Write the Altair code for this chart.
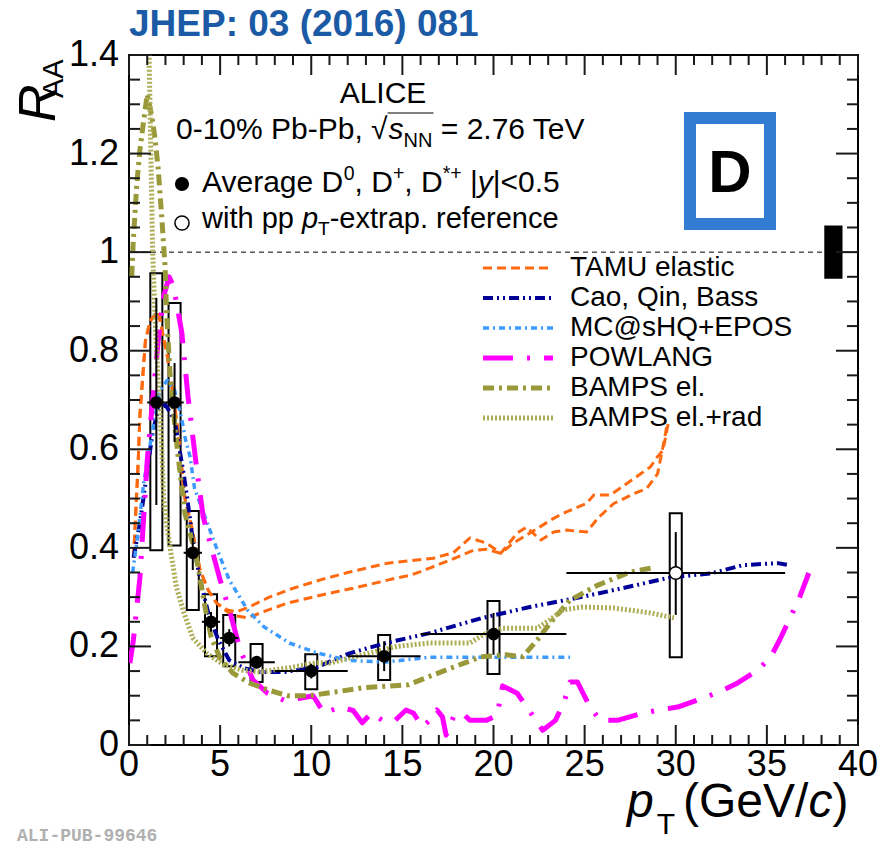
import altair as alt
import pandas as pd

# ---------------- data ----------------
# ALICE average D-meson R_AA, 0-10% Pb-Pb
pt = [1.5, 2.5, 3.5, 4.5, 5.5, 7.0, 10.0, 14.0, 20.0, 30.0]
pt_lo = [1, 2, 3, 4, 5, 6, 8, 12, 16, 24]
pt_hi = [2, 3, 4, 5, 6, 8, 12, 16, 24, 36]
raa = [0.695, 0.695, 0.39, 0.25, 0.217, 0.168, 0.15, 0.18, 0.225, 0.349]
stat_lo = [0.487, 0.615, 0.355, 0.23, 0.20, 0.155, 0.135, 0.15, 0.183, 0.264]
stat_hi = [0.907, 0.775, 0.42, 0.27, 0.235, 0.18, 0.165, 0.21, 0.268, 0.432]
sys_lo = [0.395, 0.405, 0.274, 0.18, 0.16, 0.128, 0.113, 0.132, 0.144, 0.178]
sys_hi = [0.957, 0.897, 0.475, 0.306, 0.264, 0.205, 0.184, 0.223, 0.292, 0.47]
extrap = [False] * 9 + [True]

# normalisation uncertainty box
norm_pt = [38.15, 39.15]
norm_r = [0.946, 1.054]

# model curves
tamu_a_pt = [0.25, 0.5, 0.6, 0.9, 1.15, 1.6, 2.1, 2.5, 2.7, 3.07, 3.45, 3.9, 4.35, 4.8, 5.4, 5.9, 6.6, 7.7,
             9.0, 10.5, 12.0, 14.2, 16.7, 17.8, 18.7, 19.6, 20.4, 21.3, 21.8, 22.6, 23.3, 24.0, 25.1, 25.8,
             26.6, 27.7, 28.4, 29.0, 29.3, 29.5]
tamu_a_r = [0.38, 0.57, 0.67, 0.82, 0.86, 0.88, 0.79, 0.69, 0.63, 0.50, 0.44, 0.355, 0.314, 0.288, 0.274, 0.27,
            0.28, 0.30, 0.318, 0.335, 0.35, 0.369, 0.379, 0.39, 0.42, 0.41, 0.389, 0.43, 0.442, 0.416, 0.432,
            0.436, 0.432, 0.463, 0.49, 0.51, 0.52, 0.55, 0.605, 0.645]
tamu_b_pt = [0.25, 0.5, 0.6, 0.9, 1.15, 1.6, 2.1, 2.5, 2.7, 3.07, 3.45, 3.9, 4.35, 4.8, 5.4, 5.9, 6.5, 7.5,
             8.7, 11.0, 12.3, 14.7, 15.5, 16.5, 17.6, 18.9, 19.6, 20.4, 21.1, 22.0, 23.3, 24.0, 25.1, 25.5,
             26.4, 27.3, 28.6, 29.0, 29.3, 29.6]
tamu_b_r = [0.38, 0.57, 0.67, 0.82, 0.86, 0.88, 0.79, 0.69, 0.63, 0.50, 0.44, 0.355, 0.314, 0.288, 0.27, 0.262,
            0.258, 0.272, 0.288, 0.308, 0.318, 0.339, 0.345, 0.359, 0.375, 0.395, 0.397, 0.389, 0.41, 0.43,
            0.46, 0.473, 0.49, 0.507, 0.507, 0.53, 0.564, 0.585, 0.598, 0.655]
cao_pt = [0.25, 0.6, 0.9, 1.3, 1.6, 2.0, 2.5, 3.0, 3.2, 3.5, 3.9, 4.35, 4.9, 5.5, 6.3, 7.2, 8.5, 10.3, 12.1,
          14.1, 16.5, 19.3, 22.0, 24.8, 27.3, 29.7, 31.9, 33.7, 35.6, 36.2]
cao_r = [0.38, 0.45, 0.53, 0.635, 0.68, 0.69, 0.66, 0.55, 0.50, 0.416, 0.335, 0.268, 0.213, 0.172, 0.156,
         0.148, 0.148, 0.158, 0.186, 0.207, 0.227, 0.257, 0.28, 0.30, 0.32, 0.34, 0.348, 0.365, 0.369, 0.365]
mc_pt = [0.2, 0.5, 0.8, 1.25, 1.7, 2.1, 2.5, 2.9, 3.1, 3.35, 3.6, 3.8, 4.3, 4.8, 5.5, 6.5, 7.4, 8.8, 10.3,
         12.0, 14.0, 16.5, 20.0, 24.2]
mc_r = [0.35, 0.43, 0.53, 0.63, 0.72, 0.74, 0.72, 0.66, 0.62, 0.585, 0.52, 0.50, 0.45, 0.40, 0.335, 0.274,
        0.24, 0.207, 0.187, 0.172, 0.168, 0.178, 0.178, 0.178]
pow_pt = [0.05, 0.24, 0.6, 1.0, 1.3, 1.6, 1.9, 2.2, 2.45, 2.9, 3.24, 3.7, 4.07, 4.45, 5.0, 5.55, 6.1, 6.8, 7.6,
          8.5, 9.4, 10.1, 10.7, 11.6, 12.3, 12.8, 13.3, 13.9, 14.6, 15.2, 15.6, 16.1, 16.5, 16.9, 17.2, 17.4,
          17.8, 18.3, 18.7, 19.6, 20.2, 20.5, 21.3, 22.2, 22.7, 23.4, 23.9, 24.2, 24.6, 25.3, 25.85, 26.8,
          28.2, 29.1, 30.1, 31.5, 32.4, 33.4, 34.5, 35.2, 35.7, 36.3, 36.8, 37.3]
pow_r = [0.166, 0.213, 0.34, 0.578, 0.70, 0.82, 0.91, 0.95, 0.93, 0.836, 0.706, 0.565, 0.463, 0.41, 0.335,
         0.268, 0.193, 0.132, 0.105, 0.091, 0.095, 0.10, 0.065, 0.077, 0.07, 0.045, 0.065, 0.05, 0.05, 0.071,
         0.065, 0.037, 0.05, 0.071, 0.057, 0.02, 0.057, 0.065, 0.05, 0.05, 0.06, 0.12, 0.105, 0.057, 0.03,
         0.05, 0.09, 0.128, 0.128, 0.077, 0.05, 0.05, 0.065, 0.071, 0.077, 0.095, 0.108, 0.126, 0.152, 0.178,
         0.213, 0.26, 0.30, 0.349]
bel_pt = [0.15, 0.23, 0.43, 0.6, 0.78, 1.0, 1.26, 1.43, 1.6, 1.8, 1.98, 2.07, 2.25, 2.5, 2.7, 2.9, 3.07, 3.7,
          4.17, 4.5, 5.0, 5.7, 6.6, 7.6, 8.7, 9.9, 11.4, 12.8, 15.3, 17.1, 19.3, 20.7, 21.6, 22.4, 23.1,
          24.2, 25.7, 27.5, 28.7]
bel_r = [0.95, 1.02, 1.14, 1.207, 1.26, 1.32, 1.274, 1.23, 1.17, 1.07, 0.97, 0.87, 0.755, 0.653, 0.584,
         0.523, 0.47, 0.38, 0.28, 0.22, 0.176, 0.146, 0.126, 0.112, 0.10, 0.10, 0.108, 0.116, 0.122, 0.148,
         0.179, 0.183, 0.179, 0.213, 0.247, 0.294, 0.324, 0.351, 0.359]
brad_pt = [1.0, 1.1, 1.3, 1.45, 1.6, 1.8, 1.9, 2.1, 2.3, 2.6, 3.0, 3.5, 4.3, 5.2, 6.2, 7.2, 9.0, 10.3, 11.0,
           12.8, 14.7, 16.5, 18.7, 19.6, 20.5, 22.4, 23.1, 23.8, 24.9, 26.6, 28.6, 29.9]
brad_r = [1.5, 1.4, 1.0, 0.85, 0.74, 0.6, 0.5, 0.44, 0.39, 0.32, 0.27, 0.217, 0.185, 0.163, 0.152, 0.148,
          0.158, 0.167, 0.166, 0.183, 0.20, 0.207, 0.207, 0.227, 0.237, 0.237, 0.254, 0.274, 0.28, 0.278,
          0.268, 0.258]

models = ["TAMU elastic", "Cao, Qin, Bass", "MC@sHQ+EPOS", "POWLANG", "BAMPS el.", "BAMPS el.+rad"]
x_ticks_major = [0, 5, 10, 15, 20, 25, 30, 35, 40]
x_ticks_minor = [v for v in range(0, 41) if v % 5]
y_ticks_major = [0.0, 0.2, 0.4, 0.6, 0.8, 1.0, 1.2, 1.4]
y_ticks_minor = [round(0.05 * i, 2) for i in range(29) if i % 4]

# ---------------- tables ----------------
meas = pd.DataFrame({"pt": pt, "lo": pt_lo, "hi": pt_hi, "raa": raa, "slo": stat_lo, "shi": stat_hi,
                     "ylo": sys_lo, "yhi": sys_hi, "extrap": extrap})
BOX_HALF = 0.33
meas["bx0"] = meas["pt"] - BOX_HALF
meas["bx1"] = meas["pt"] + BOX_HALF

curve_specs = [
    ("TAMU elastic", "tamu_a", tamu_a_pt, tamu_a_r),
    ("TAMU elastic", "tamu_b", tamu_b_pt, tamu_b_r),
    ("Cao, Qin, Bass", "cao", cao_pt, cao_r),
    ("MC@sHQ+EPOS", "mc", mc_pt, mc_r),
    ("POWLANG", "pow", pow_pt, pow_r),
    ("BAMPS el.", "bel", bel_pt, bel_r),
    ("BAMPS el.+rad", "brad", brad_pt, brad_r),
]
rows = []
for model, cid, xs_, ys_ in curve_specs:
    for i, (a, b) in enumerate(zip(xs_, ys_)):
        rows.append({"model": model, "curve": cid, "idx": i, "pt": a, "r": b})
curves = pd.DataFrame(rows)
norm = pd.DataFrame({"x0": [norm_pt[0]], "x1": [norm_pt[1]], "y0": [norm_r[0]], "y1": [norm_r[1]]})
unity = pd.DataFrame({"r": [1.0]})
one = pd.DataFrame({"k": [0]})

# ---------------- styling ----------------
W, H = 729, 690
X_MAX, Y_MAX = 40.0, 1.4
PX_X = X_MAX / W      # data units per pixel
PX_Y = Y_MAX / H
FONT = "Liberation Sans"
XS = alt.Scale(domain=[0, X_MAX], nice=False, zero=False)
YS = alt.Scale(domain=[0, Y_MAX], nice=False, zero=False)
colors = ["#ff6a10", "#000099", "#3d9bff", "#ff00ff", "#99993a", "#adad55"]
dashes = [[9, 5], [10, 4, 2, 4, 2, 4], [6, 4, 2, 4], [30, 14, 3, 14], [11, 5, 3, 5], [2, 2]]
widths = [3, 4, 3.5, 5, 5, 5]
TICK_COLOR = "#1a1a1a"
TICK_W = 2


# ROOT-style ticks on all four edges, pointing into the frame (lengths given in pixels)
def xtick_rules(values, length_px, top):
    d = length_px * PX_Y
    a, b = (Y_MAX, Y_MAX - d) if top else (0.0, d)
    df = pd.DataFrame({"v": values, "a": a, "b": b})
    return alt.Chart(df).mark_rule(color=TICK_COLOR, strokeWidth=TICK_W).encode(
        x=alt.X("v:Q", scale=XS, axis=None), y=alt.Y("a:Q", scale=YS, axis=None), y2="b:Q")


def ytick_rules(values, length_px, right):
    d = length_px * PX_X
    a, b = (X_MAX, X_MAX - d) if right else (0.0, d)
    df = pd.DataFrame({"v": values, "a": a, "b": b})
    return alt.Chart(df).mark_rule(color=TICK_COLOR, strokeWidth=TICK_W).encode(
        y=alt.Y("v:Q", scale=YS, axis=None), x=alt.X("a:Q", scale=XS, axis=None), x2="b:Q")


tick_layers = []
for edge in (False, True):
    tick_layers += [xtick_rules(x_ticks_major, 20, edge), xtick_rules(x_ticks_minor, 10, edge),
                    ytick_rules(y_ticks_major, 22, edge), ytick_rules(y_ticks_minor, 11, edge)]

# tick labels, placed through the same scales just outside the frame
xlab_df = pd.DataFrame({"v": x_ticks_major, "p": -3 * PX_Y, "lab": [f"{v:g}" for v in x_ticks_major]})
ylab_df = pd.DataFrame({"v": y_ticks_major, "p": -10 * PX_X, "lab": [f"{v:g}" for v in y_ticks_major]})
xlabels = alt.Chart(xlab_df).mark_text(font=FONT, fontSize=36, color="black", align="center",
                                       baseline="top").encode(
    x=alt.X("v:Q", scale=XS, axis=None), y=alt.Y("p:Q", scale=YS, axis=None), text="lab:N")
ylabels = alt.Chart(ylab_df).mark_text(font=FONT, fontSize=36, color="black", align="right",
                                       baseline="middle").encode(
    y=alt.Y("v:Q", scale=YS, axis=None), x=alt.X("p:Q", scale=XS, axis=None), text="lab:N")

unity_line = alt.Chart(unity).mark_rule(color="black", strokeWidth=1, strokeDash=[5, 4]).encode(
    y=alt.Y("r:Q", scale=YS, axis=None))

norm_box = alt.Chart(norm).mark_rect(color="black").encode(
    x=alt.X("x0:Q", scale=XS, axis=None), x2="x1:Q",
    y=alt.Y("y0:Q", scale=YS, axis=None), y2="y1:Q")

sys_boxes = alt.Chart(meas).mark_rect(fillOpacity=0, stroke="black", strokeWidth=2).encode(
    x=alt.X("bx0:Q", scale=XS, axis=None), x2="bx1:Q",
    y=alt.Y("ylo:Q", scale=YS, axis=None), y2="yhi:Q")

lines = alt.Chart(curves).mark_line(clip=True, strokeCap="butt", strokeJoin="round").encode(
    x=alt.X("pt:Q", scale=XS, axis=None),
    y=alt.Y("r:Q", scale=YS, axis=None),
    color=alt.Color("model:N", scale=alt.Scale(domain=models, range=colors), legend=None),
    strokeDash=alt.StrokeDash("model:N", scale=alt.Scale(domain=models, range=dashes), legend=None),
    strokeWidth=alt.StrokeWidth("model:N", scale=alt.Scale(type="ordinal", domain=models, range=widths),
                                legend=None),
    detail="curve:N",
    order="idx:Q")

hbars = alt.Chart(meas).mark_rule(color="black", strokeWidth=2).encode(
    x=alt.X("lo:Q", scale=XS, axis=None), x2="hi:Q",
    y=alt.Y("raa:Q", scale=YS, axis=None))
vbars = alt.Chart(meas).mark_rule(color="black", strokeWidth=2).encode(
    x=alt.X("pt:Q", scale=XS, axis=None),
    y=alt.Y("slo:Q", scale=YS, axis=None), y2="shi:Q")
pts_filled = alt.Chart(meas).transform_filter("!datum.extrap").mark_point(
    filled=True, shape="circle", size=160, color="black", opacity=1).encode(
    x=alt.X("pt:Q", scale=XS, axis=None), y=alt.Y("raa:Q", scale=YS, axis=None))
pts_open = alt.Chart(meas).transform_filter("datum.extrap").mark_point(
    shape="circle", size=160, fill="white", stroke="black", strokeWidth=1.5, opacity=1, fillOpacity=1).encode(
    x=alt.X("pt:Q", scale=XS, axis=None), y=alt.Y("raa:Q", scale=YS, axis=None))

# ---------------- text helpers ----------------
HW = {' ': 278, '!': 278, '%': 889, '(': 333, ')': 333, '*': 389, '+': 584, ',': 278, '-': 333, '.': 278,
      '/': 278, '<': 584, '=': 584, '|': 260, '\u221a': 549,
      'A': 667, 'B': 667, 'C': 722, 'D': 722, 'E': 667, 'G': 778, 'I': 278, 'L': 556, 'N': 722, 'P': 667,
      'T': 611, 'V': 667, 'a': 556, 'b': 556, 'c': 500, 'e': 556, 'f': 278, 'g': 556, 'h': 556, 'i': 222,
      'n': 556, 'p': 556, 'r': 333, 's': 500, 't': 278, 'v': 500, 'w': 722, 'x': 500, 'y': 500}


def tw(s, size):
    return sum(HW.get(c, 556) for c in s) * size / 1000.0


def txt(s, x, y, size=28, **kw):
    props = dict(text=s, fontSize=size, font=FONT, align="left", baseline="alphabetic", color="black")
    props.update(kw)
    return alt.Chart(one).mark_text(**props).encode(x=alt.value(x), y=alt.value(y))


def chain(pieces, x, y):
    """Lay out text pieces left to right (SVG drops leading blanks, so advance past them)."""
    layers = []
    for s, size, style, dy in pieces:
        core = s.lstrip(" ")
        x += tw(s[:len(s) - len(core)], size)
        layers.append(txt(core, x, y + dy, size=size, fontStyle=style))
        x += tw(core, size)
    return layers, x


# legend of the model curves (sample line + label per row)
legend_layers = []
for i, m in enumerate(models):
    ly = 213 + 30 * i
    legend_layers.append(
        alt.Chart(one).mark_rule(color=colors[i], strokeDash=dashes[i], strokeWidth=widths[i],
                                 strokeCap="butt").encode(
            x=alt.value(354), x2=alt.value(424), y=alt.value(ly)))
    legend_layers.append(txt(m, 441, ly, size=28, baseline="middle"))

texts = [txt("ALICE", 254, 48, size=30, align="center")]

S2, SS2 = 30, 20
l2a, xr = chain([("0-10% Pb-Pb, ", S2, "normal", 0), ("\u221a", S2, "normal", 0)], 47, 84)
sq_start = xr
l2b, xr = chain([("s", S2, "italic", 0), ("NN", SS2, "normal", 8)], xr + 1, 84)
sq_end = xr + 1
l2c, xr = chain([(" = 2.76 TeV", S2, "normal", 0)], xr, 84)
texts += l2a + l2b + l2c
overline = alt.Chart(one).mark_rule(color="black", strokeWidth=1.2).encode(
    x=alt.value(sq_start), x2=alt.value(sq_end), y=alt.value(58))

S3, SS3 = 30, 19.5
l3, _ = chain([("Average D", S3, "normal", 0), ("0", SS3, "normal", -12), (", D", S3, "normal", 0),
               ("+", SS3, "normal", -12), (", D", S3, "normal", 0), ("*+", SS3, "normal", -12),
               (" |", S3, "normal", 0), ("y", S3, "italic", 0), ("|<0.5", S3, "normal", 0)], 73, 137)
S4, SS4 = 29, 19
l4, _ = chain([("with pp ", S4, "normal", 0), ("p", S4, "italic", 0), ("T", SS4, "normal", 7),
               ("-extrap. reference", S4, "normal", 0)], 73, 173)
texts += l3 + l4
bullet = alt.Chart(one).mark_point(filled=True, shape="circle", size=200, color="black", opacity=1).encode(
    x=alt.value(53), y=alt.value(129))
ocircle = alt.Chart(one).mark_point(shape="circle", size=200, stroke="black", strokeWidth=1.5,
                                    fill="white", opacity=1).encode(x=alt.value(53), y=alt.value(168))

# D-meson logo
logo = alt.Chart(one).mark_rect(fill="white", stroke="#2271cf", strokeWidth=12, strokeOpacity=0.92).encode(
    x=alt.value(561), x2=alt.value(641), y=alt.value(63), y2=alt.value(169))
logo_d = txt("D", 601, 137, size=60, fontWeight="bold", align="center")

# titles
title = txt("JHEP: 03 (2016) 081", 0, -19, size=37, fontWeight="bold", color="#1b5aa5")
ytitle = [txt("R", -74, 67, size=52, fontStyle="italic", angle=270),
          txt("AA", -66, 43, size=29, angle=270)]
XT_Y = 762
xt, xr = chain([("p", 48, "italic", 0)], 498, XT_Y)
xt2, _ = chain([("T", 30, "normal", 17)], xr + 3, XT_Y)
xt3, xr = chain([("(GeV/", 48, "normal", 0)], 554, XT_Y)
xt4, xr = chain([("c", 48, "italic", 0)], xr, XT_Y)
xt5, _ = chain([(")", 48, "normal", 0)], xr, XT_Y)
xtitle = xt + xt2 + xt3 + xt4 + xt5
alipub = txt("ALI-PUB-99646", -112, 786, size=18, font="Liberation Mono", color="#b0b0b0", fontWeight="bold")

layers = ([unity_line, norm_box, logo, logo_d, sys_boxes, lines,
           hbars, vbars, pts_filled, pts_open] + tick_layers + [xlabels, ylabels]
          + [bullet, ocircle, overline, title, alipub]
          + legend_layers + texts + ytitle + xtitle)

chart = alt.layer(*layers).properties(
    width=W, height=H,
    autosize=alt.AutoSizeParams(type="none"),
    padding={"left": 129, "top": 55, "right": 28, "bottom": 101},
    background="white",
).configure_view(stroke="black", strokeWidth=2)

chart.save("out.html", embed_options={"renderer": "svg", "actions": False})
